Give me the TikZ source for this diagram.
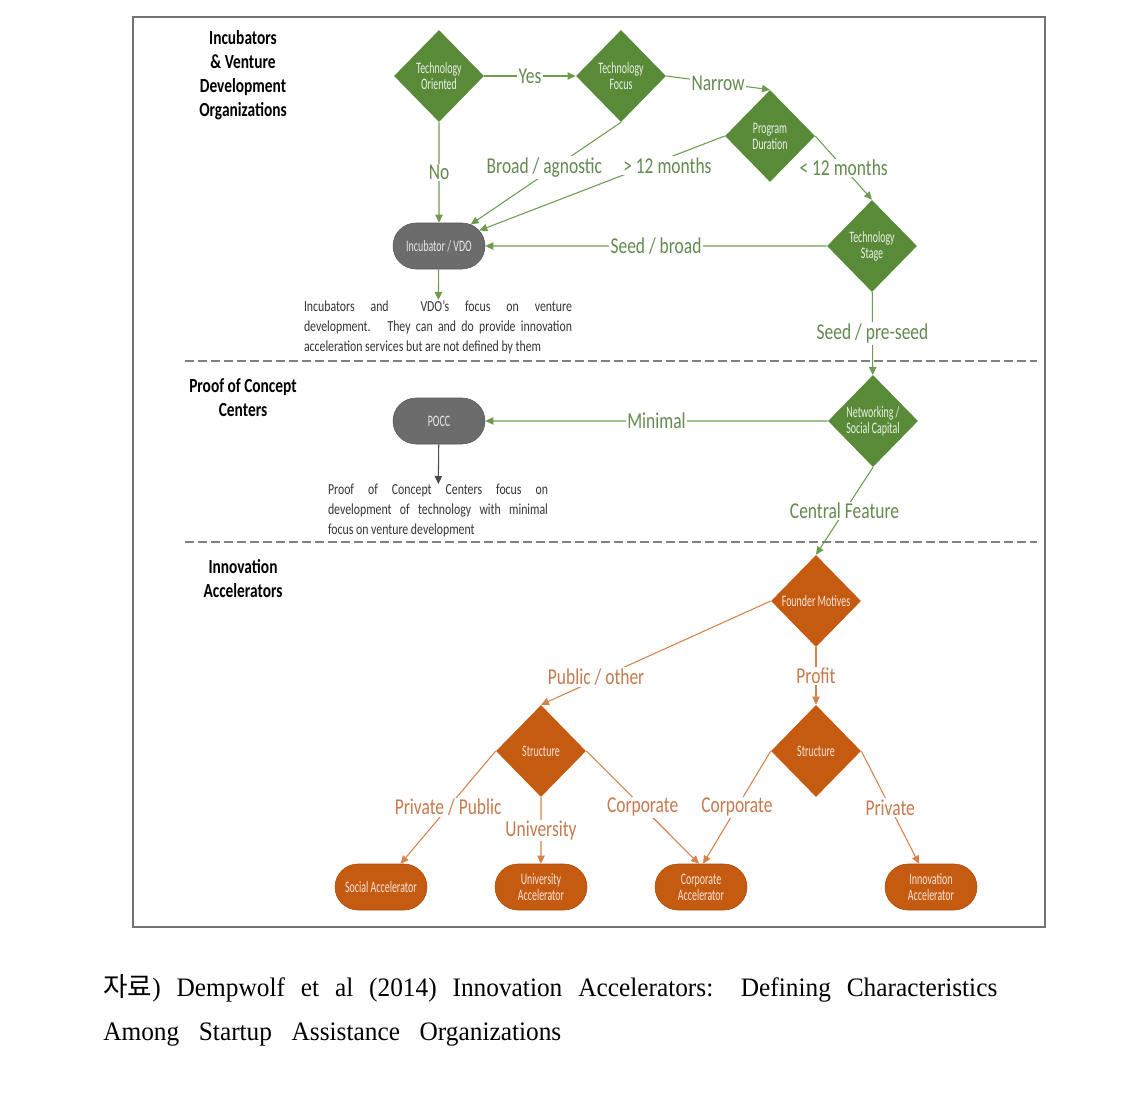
\documentclass[tikz,border=0pt]{standalone}
\usepackage{fontspec}
\setmainfont{Carlito}[FakeStretch=0.77]
\newfontfamily\boxfont{Carlito}[FakeStretch=0.62]
\newfontfamily\capfont{Liberation Serif}[FakeStretch=0.95]
\newfontfamily\cjk{Noto Sans CJK KR}
\usetikzlibrary{shapes.geometric,shapes.misc,arrows.meta}

\definecolor{greenfill}{RGB}{88,138,56}
\definecolor{greenline}{RGB}{110,155,80}
\definecolor{greentext}{RGB}{100,138,80}
\definecolor{orangefill}{RGB}{197,90,17}
\definecolor{orangeline}{RGB}{212,130,78}
\definecolor{orangetext}{RGB}{198,122,78}
\definecolor{boxgray}{RGB}{108,108,108}

\begin{document}
\begin{tikzpicture}[x=0.75pt, y=-0.75pt, >={Triangle[length=6pt,width=5.5pt]},
  gdia/.style={diamond, fill=greenfill, minimum width=67.5pt, minimum height=69pt, inner sep=0pt,
    align=center, text=white!88!greenfill, font=\boxfont\fontsize{12}{12}\selectfont},
  odia/.style={gdia, fill=orangefill, text=white!85!orangefill},
  gbox/.style={rounded rectangle, fill=boxgray, draw=boxgray!80!black, minimum width=69pt,
    minimum height=34.5pt, inner sep=0pt, align=center, text=white!85!boxgray,
    font=\boxfont\fontsize{12}{12}\selectfont},
  obox/.style={gbox, fill=orangefill, draw=orangefill!85!black, text=white!85!orangefill},
  glab/.style={fill=white, inner sep=1pt, text=greentext, font=\fontsize{17}{17}\selectfont},
  olab/.style={glab, text=orangetext},
  gline/.style={draw=greenline, line width=0.8pt},
  oline/.style={draw=orangeline, line width=0.8pt},
  lanetitle/.style={align=center, font=\bfseries\fontsize{15}{18}\selectfont},
  notetext/.style={align=justify, inner sep=0pt, anchor=north, text=black!80,
    font=\fontsize{11.5}{15}\selectfont},
  laneline/.style={draw=black!50, line width=1.5pt, dash pattern=on 6.75pt off 3pt},
  source/.style={anchor=base west, inner sep=0pt, font=\capfont\fontsize{20}{24}\selectfont}
]
  \useasboundingbox (0,0) rectangle (1141,1095);
  \draw[black!55, line width=0.8pt] (133,17) rectangle (1045,927);

  % lanes
  \draw[laneline] (185,361) -- (1037,361);
  \draw[laneline] (185,542) -- (1037,542);
  \node[lanetitle] (ivdotitle) at (243,75) {Incubators\\\& Venture\\Development\\Organizations};
  \node[lanetitle] (pocctitle) at (243,398) {Proof of Concept\\Centers};
  \node[lanetitle] (iatitle) at (243,579) {Innovation\\Accelerators};

  % green part
  \node[gdia] (techor) at (439,76) {Technology\\Oriented};
  \node[gdia] (techfoc) at (621,76) {Technology\\Focus};
  \node[gdia] (progdur) at (770,136) {Program\\Duration};
  \node[gdia] (techst) at (872,246) {Technology\\Stage};
  \node[gdia] (netw) at (873,421) {Networking /\\Social Capital};
  \node[gbox] (incvdo) at (439,246) {Incubator / VDO};
  \node[gbox] (pocc) at (439,421) {POCC};
  \node[notetext, text width=201pt] (inctxt) at (438,300)
    {Incubators and \ VDO's focus on venture\linebreak development. \ They can and do provide innovation\linebreak acceleration services but are not defined by them};
  \node[notetext, text width=165pt] (pocctxt) at (438,484)
    {Proof of Concept Centers focus on\linebreak development of technology with minimal\linebreak focus on venture development};

  \draw[gline,->] (techor) -- node[glab]{Yes} (techfoc);
  \draw[gline,->] (techfoc.east) -- node[glab]{Narrow} (progdur.north);
  \draw[gline,->] (techor) -- node[glab]{No} (incvdo);
  \draw[gline,->] (techfoc.south) -- node[glab, pos=0.47, xshift=-4.5pt, yshift=2pt]{Broad / agnostic} (incvdo);
  \draw[gline,->] (progdur.west) -- node[glab, pos=0.25, xshift=3pt, yshift=-4.5pt]{> 12 months} (incvdo);
  \draw[gline,->] (progdur.east) -- node[glab]{< 12 months} (techst.north);
  \draw[gline,->] (techst) -- node[glab]{Seed / broad} (incvdo);
  \draw[gline,->] (techst) -- node[glab]{Seed / pre-seed} (netw);
  \draw[gline,->] (netw) -- node[glab]{Minimal} (pocc);
  \draw[gline,->] (incvdo) -- (inctxt);
  \draw[->, black!70, line width=0.8pt] (pocc) -- (pocctxt);

  % orange part
  \node[odia] (fmot) at (816,601) {Founder Motives};
  \node[odia] (strl) at (541,751) {Structure};
  \node[odia] (strr) at (816,751) {Structure};
  \node[obox] (socacc) at (381,887) {Social Accelerator};
  \node[obox] (uniacc) at (541,887) {University\\Accelerator};
  \node[obox] (corpacc) at (701,887) {Corporate\\Accelerator};
  \node[obox] (innacc) at (931,887) {Innovation\\Accelerator};

  \draw[gline,->] (netw.south) -- node[glab]{Central Feature} (fmot.north);
  \draw[oline,->] (fmot.west) -- node[olab, pos=0.76, yshift=2pt]{Public / other} (strl.north);
  \draw[oline,->] (fmot) -- node[olab]{Profit} (strr);
  \draw[oline,->] (strl.west) -- node[olab]{Private / Public} (socacc);
  \draw[oline,->] (strl) -- node[olab]{University} (uniacc);
  \draw[oline,->] (strl.east) -- node[olab]{Corporate} (corpacc.95);
  \draw[oline,->] (strr.west) -- node[olab]{Corporate} (corpacc.85);
  \draw[oline,->] (strr.east) -- node[olab]{Private} (innacc);

  % source
  \node[source] (capone) at (103,996.5)
    {\makebox[670.5pt][s]{{\cjk 자료}) Dempwolf et al (2014) Innovation Accelerators: Defining Characteristics}};
  \node[source] (captwo) at (103,1040)
    {\makebox[343.5pt][s]{Among Startup Assistance Organizations}};
\end{tikzpicture}
\end{document}
